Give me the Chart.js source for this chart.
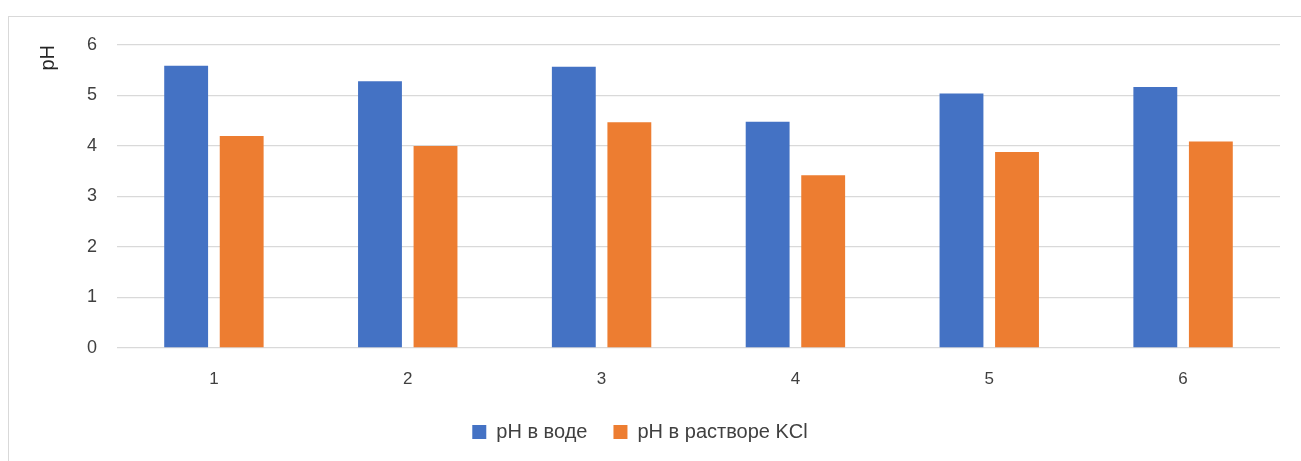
<!DOCTYPE html>
<html>
<head>
<meta charset="utf-8">
<script src="https://cdn.jsdelivr.net/npm/chart.js@4.4.1/dist/chart.umd.min.js"></script>
<style>
  html, body { margin: 0; padding: 0; background: #fff; overflow: hidden; }
  #frame { position: absolute; left: 8px; top: 16px; width: 1320px; height: 480px; border: 1px solid #d9d9d9; }
  #wrap { position: absolute; left: 0; top: 0; width: 1301px; height: 461px; }
</style>
</head>
<body>
<div id="frame"></div>
<div id="wrap"><canvas id="myChart"></canvas></div>
<script>
// samples and measured pH
var categories = ['1', '2', '3', '4', '5', '6'];
var phWater = [5.59, 5.28, 5.57, 4.48, 5.04, 5.17];
var phKCl = [4.2, 4.0, 4.47, 3.42, 3.88, 4.09];
var yTicks = [0, 1, 2, 3, 4, 5, 6];

var font = '"Liberation Sans", Arial, sans-serif';

var ctx = document.getElementById('myChart');
var myChart = new Chart(ctx, {
    type: 'bar',
    data: {
        labels: categories,
        datasets: [{
            label: 'pH в воде',
            data: phWater,
            backgroundColor: '#4472C4',
            categoryPercentage: 0.573,
            barPercentage: 0.79
        }, {
            label: 'pH в растворе KCl',
            data: phKCl,
            backgroundColor: '#ED7D31',
            categoryPercentage: 0.573,
            barPercentage: 0.79
        }]
    },
    options: {
        responsive: true,
        maintainAspectRatio: false,
        animation: false,
        layout: {
            padding: { left: 0, right: 21, top: 45, bottom: 9 }
        },
        plugins: {
            legend: {
                position: 'bottom',
                labels: {
                    boxWidth: 14,
                    boxHeight: 14,
                    padding: 26,
                    color: '#404040',
                    font: { family: font, size: 20 }
                }
            },
            tooltip: { enabled: false }
        },
        scales: {
            x: {
                grid: { display: false },
                border: { display: false },
                ticks: {
                    color: '#404040',
                    padding: 13,
                    font: { family: font, size: 17 }
                },
                afterFit: function (scale) { scale.height = 48; }
            },
            y: {
                min: 0,
                max: 6,
                afterBuildTicks: function (scale) {
                    scale.ticks = yTicks.map(function (v) { return { value: v }; });
                },
                grid: { color: '#d9d9d9', lineWidth: 1.3, drawTicks: false },
                border: { display: false },
                ticks: {
                    color: '#404040',
                    padding: 20,
                    font: { family: font, size: 18 }
                },
                title: {
                    display: true,
                    text: 'pH',
                    align: 'end',
                    color: '#262626',
                    padding: { top: 36, bottom: 0 },
                    font: { family: font, size: 20 }
                },
                afterFit: function (scale) { scale.width = 117; }
            }
        }
    }
});
</script>
</body>
</html>
